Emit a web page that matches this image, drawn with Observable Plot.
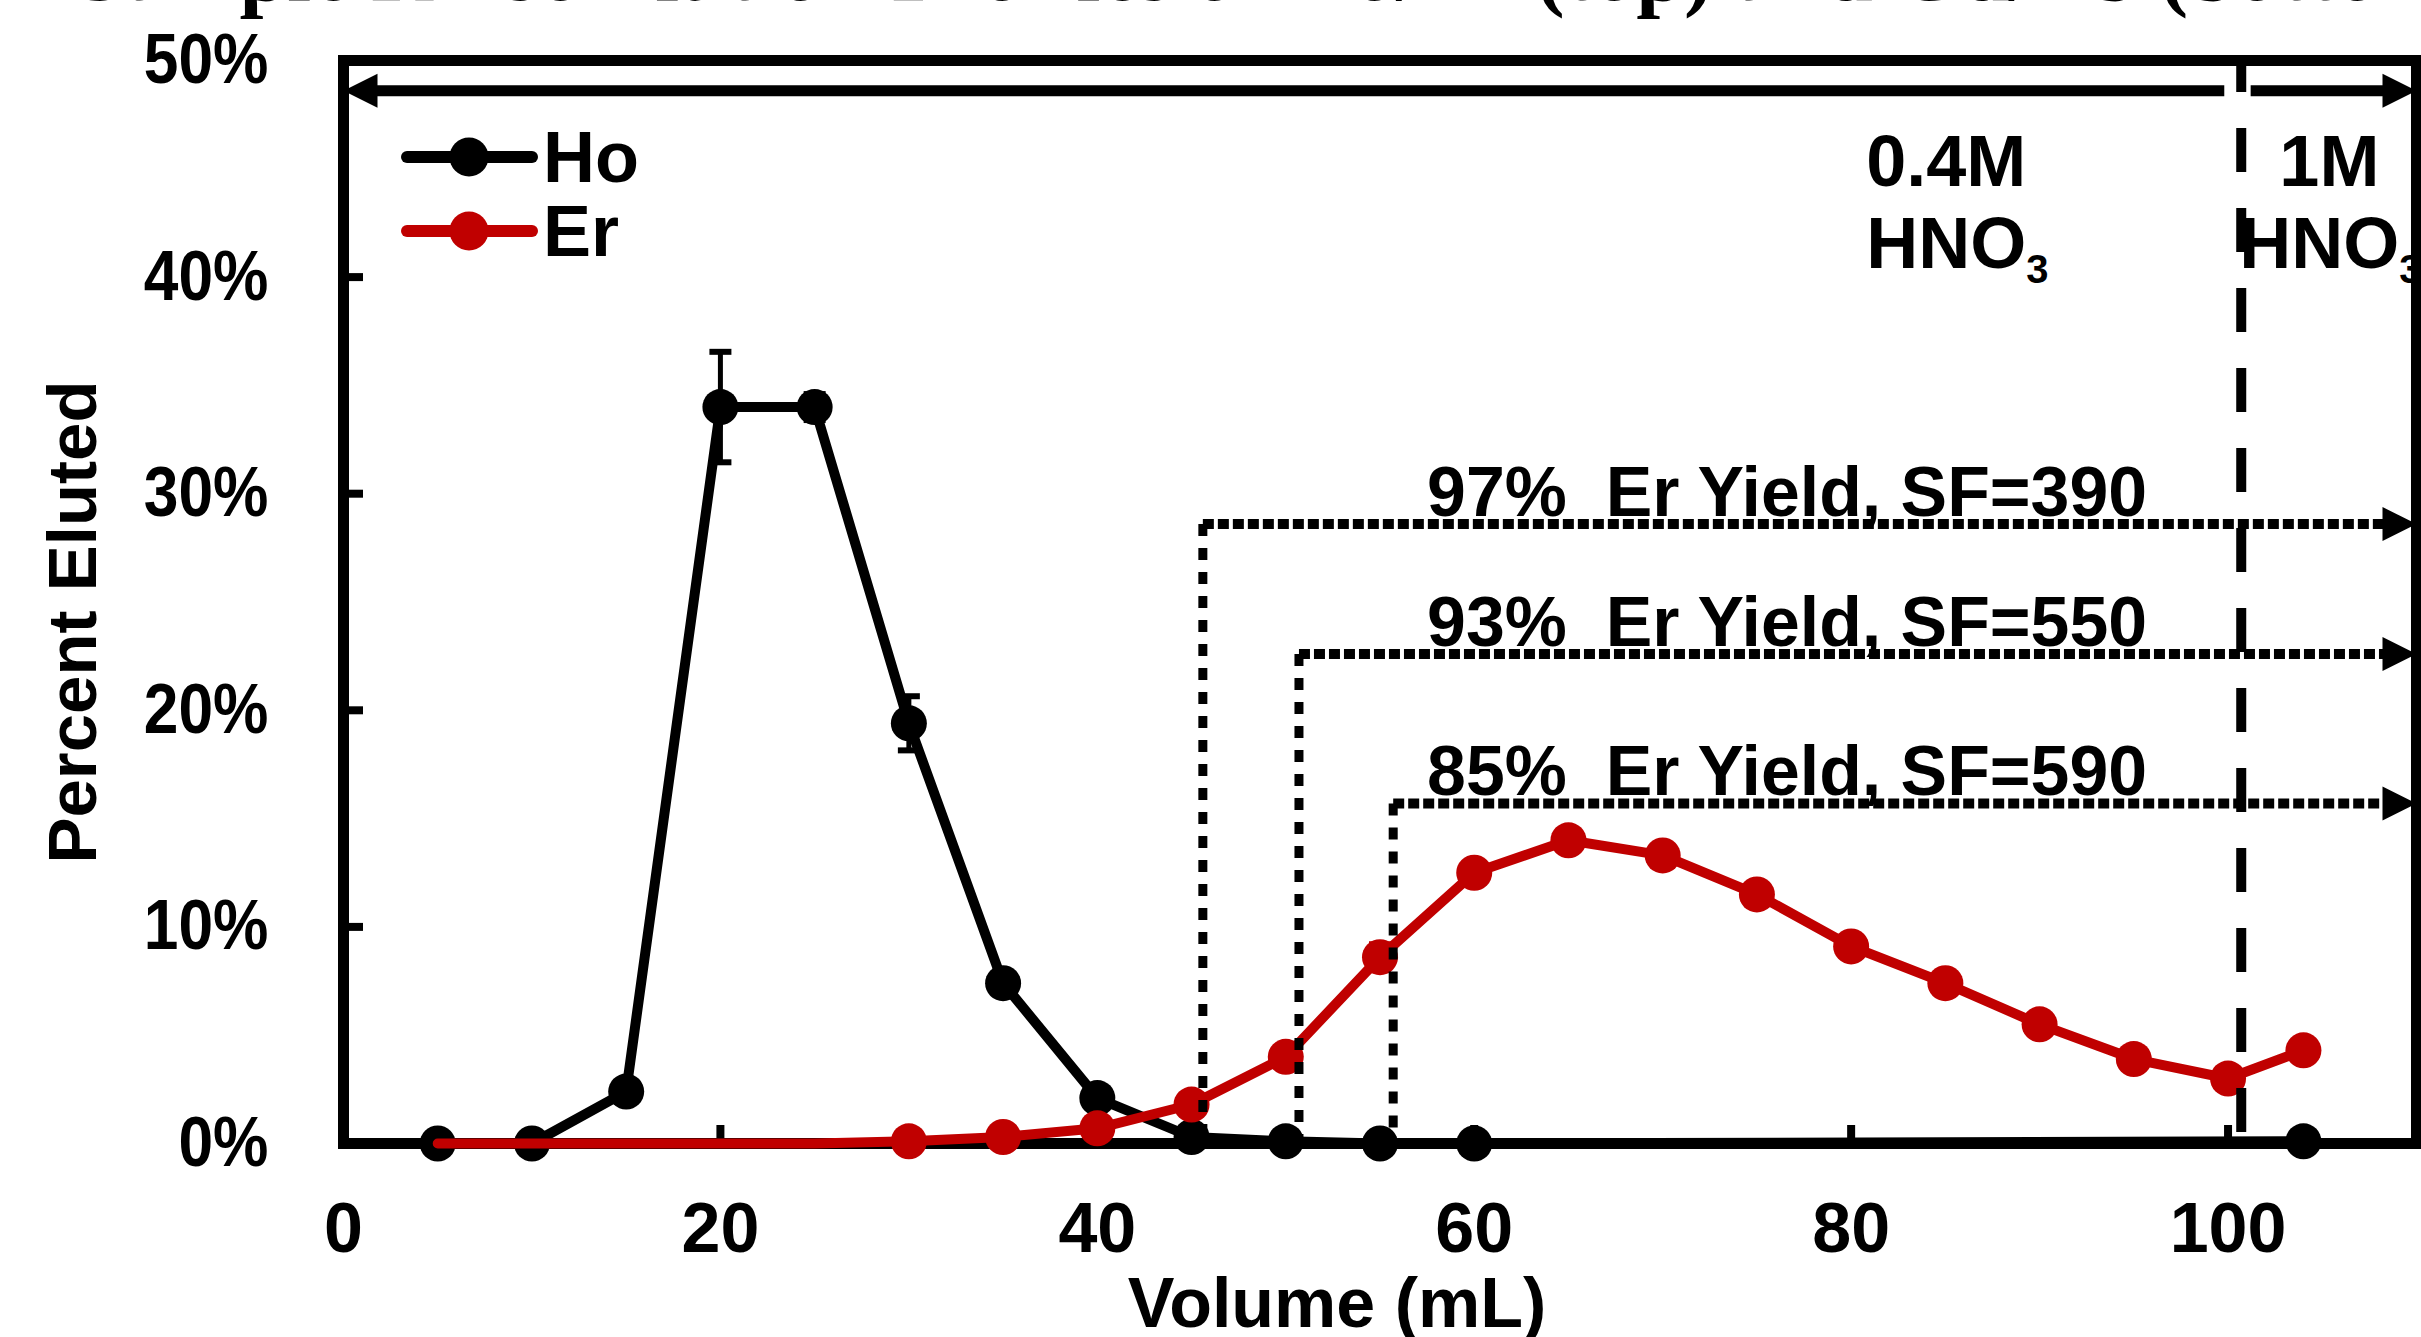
<!DOCTYPE html>
<html>
<head>
<meta charset="utf-8">
<script src="https://cdn.jsdelivr.net/npm/d3@7"></script>
<script src="https://cdn.jsdelivr.net/npm/@observablehq/plot@0.6"></script>
<style>
html, body { margin: 0; padding: 0; background: #fff; }
#wrap { position: relative; width: 2421px; height: 1337px; overflow: hidden; background: #fff; }
#chart svg { display: block; }
#title { position: absolute; left: 77px; top: -72px; font: bold 86px "Liberation Serif", "Times New Roman", serif; line-height: 1; white-space: nowrap; color: #000; }
.leg-swatch { position: absolute; }
.leg-text { position: absolute; font: bold 72px "Liberation Sans", Arial, sans-serif; line-height: 1; color: #000; white-space: nowrap; }
</style>
</head>
<body>
<div id="wrap">
  <div id="chart"></div>
  <div id="title">Sample Rinse Elution Profiles of Ho/Er (top) and Gd/Tb (bottom)</div>
  <div id="legend"></div>
</div>
<script>
// ---------------- data ----------------
const hoVolume  = [5, 10, 15, 20, 25, 30, 35, 40, 45, 50, 55, 60, 104];
const hoPercent = [0, 0, 2.4, 34.0, 34.0, 19.4, 7.4, 2.1, 0.3, 0.1, 0, 0, 0.1];
const hoError   = [0, 0, 0.3, 2.55, 0.6, 1.25, 0.4, 0.3, 0.1, 0, 0, 0, 0];

const erVolume  = [5, 10, 15, 20, 25, 30, 35, 40, 45, 50, 55, 60, 65, 70, 75, 80, 85, 90, 95, 100, 104];
const erPercent = [0, 0, 0, 0, 0, 0.1, 0.3, 0.7, 1.8, 4.0, 8.6, 12.5, 14.0, 13.3, 11.5, 9.1, 7.4, 5.5, 3.9, 3.0, 4.3];
const erError   = [0, 0, 0, 0, 0, 0.1, 0.2, 0.3, 0.4, 0.45, 0.6, 0.45, 0.45, 0.45, 0.45, 0.45, 0.45, 0.45, 0.4, 0.45, 0.45];

const seriesNames  = ["Ho", "Er"];
const seriesColors = ["#000000", "#C00000"];

const xTicks = [0, 20, 40, 60, 80, 100];
const yTicks = [0, 10, 20, 30, 40, 50];

// Er collection cut-offs (start volume, arrow level) and their labels
const cutVolume  = [45.6, 50.7, 55.7];
const cutPercent = [28.6, 22.6, 15.7];
const cutLabels  = ["97%  Er Yield, SF=390", "93%  Er Yield, SF=550", "85%  Er Yield, SF=590"];

// eluent change
const acidChangeVolume = 100.7;
const acidLabels = ["0.4M\nHNO₃", "\u00a0\u00a01M\nHNO₃"];

// ---------------- layout ----------------
const xDomain = [0, 110];
const yDomain = [0, 50];
const topArrowLevel = 48.6;
const cutLabelStart = 57.5;
const acidLabelX = [80.8, 100.6];
const acidLabelY = 40.4;
const markerStart = 30; // Er markers are shown from this volume on

const ho = hoVolume.map((v, i) => ({v, p: hoPercent[i], e: hoError[i]}));
const er = erVolume.map((v, i) => ({v, p: erPercent[i], e: erError[i]}));
const cuts = cutVolume.map((v, i) => ({v, p: cutPercent[i], label: cutLabels[i]}));
const acids = acidLabels.map((label, i) => ({label, x: acidLabelX[i]}));
const topArrows = [
  {x1: acidChangeVolume - 0.9, x2: xDomain[0] + 1.2},
  {x1: acidChangeVolume + 0.5, x2: xDomain[1] - 1.2}
];

const triRight = {draw(ctx) { ctx.moveTo(0, 0); ctx.lineTo(-34, -17); ctx.lineTo(-34, 17); ctx.closePath(); }};
const triLeft  = {draw(ctx) { ctx.moveTo(0, 0); ctx.lineTo(34, -17); ctx.lineTo(34, 17); ctx.closePath(); }};
const cap      = {draw(ctx) { ctx.rect(-11, -3, 22, 6); }};

const red = seriesColors[1];
const black = seriesColors[0];

function errorMarks(data, color) {
  const d = data.filter(o => o.e > 0);
  return [
    Plot.ruleX(d, {x: "v", y1: o => o.p - o.e, y2: o => o.p + o.e, stroke: color, strokeWidth: 5}),
    Plot.dot(d, {x: "v", y: o => o.p - o.e, symbol: cap, fill: color, stroke: "none"}),
    Plot.dot(d, {x: "v", y: o => o.p + o.e, symbol: cap, fill: color, stroke: "none"})
  ];
}

const svg = Plot.plot({
  width: 2421,
  height: 1337,
  marginTop: 60,
  marginBottom: 194,
  marginLeft: 343,
  marginRight: 5,
  x: {domain: xDomain},
  y: {domain: yDomain},
  style: {fontFamily: '"Liberation Sans", Arial, sans-serif', fontWeight: "bold", background: "white", color: "black"},
  marks: [
    // frame
    Plot.frame({stroke: black, strokeWidth: 11}),
    // axes: labels
    Plot.axisY({ticks: yTicks, tickSize: 0, tickPadding: 75, tickFormat: d => d + "%", fontSize: 70, label: null}),
    Plot.axisX({ticks: xTicks, tickSize: 0, tickPadding: 59, fontSize: 70, label: null}),
    // axes: inward ticks
    Plot.axisY({ticks: yTicks.slice(1, -1), tickSize: 20, dx: 20, strokeWidth: 8, fill: "none", label: null}),
    Plot.axisX({ticks: xTicks.slice(1), tickSize: 18, dy: -18, strokeWidth: 8, fill: "none", label: null}),
    // axis titles
    Plot.text(["Percent Eluted"], {text: d => d, frameAnchor: "left", textAnchor: "middle", rotate: -90, dx: -270, dy: 20, fontSize: 69}),
    Plot.text(["Volume (mL)"], {text: d => d, frameAnchor: "bottom", textAnchor: "middle", lineAnchor: "bottom", dx: -43, dy: 183, fontSize: 70}),
    // Ho
    Plot.line(ho, {x: "v", y: "p", stroke: black, strokeWidth: 10}),
    ...errorMarks(ho, black),
    Plot.dot(ho, {x: "v", y: "p", r: 18, fill: black, stroke: "none"}),
    // Er
    Plot.line(er, {x: "v", y: "p", stroke: red, strokeWidth: 10}),
    ...errorMarks(er.filter(o => o.v >= markerStart), red),
    Plot.dot(er.filter(o => o.v >= markerStart), {x: "v", y: "p", r: 18, fill: red, stroke: "none"}),
    // cut-off dotted lines and arrows
    Plot.link(cuts, {x1: "v", y1: "p", x2: "v", y2: 0, stroke: black, strokeWidth: 9, strokeDasharray: "12,12"}),
    Plot.link(cuts, {x1: "v", y1: "p", x2: xDomain[1] - 1.2, y2: "p", stroke: black, strokeWidth: 10, strokeDasharray: "11,4"}),
    Plot.dot(cuts, {x: xDomain[1], y: "p", symbol: triRight, fill: black, stroke: "none"}),
    Plot.text(cuts, {x: cutLabelStart, y: "p", text: "label", textAnchor: "start", lineAnchor: "bottom", dy: -8, fontSize: 70}),
    // eluent change line
    Plot.ruleX([acidChangeVolume], {y1: yDomain[1], y2: yDomain[0], stroke: black, strokeWidth: 10, strokeDasharray: "44,36", strokeDashoffset: 12}),
    // top arrows
    Plot.link(topArrows, {x1: "x1", x2: "x2", y1: topArrowLevel, y2: topArrowLevel, stroke: black, strokeWidth: 11}),
    Plot.dot([xDomain[0]], {x: d => d, y: topArrowLevel, symbol: triLeft, fill: black, stroke: "none"}),
    Plot.dot([xDomain[1]], {x: d => d, y: topArrowLevel, symbol: triRight, fill: black, stroke: "none"}),
    // eluent labels
    Plot.text(acids, {x: "x", y: acidLabelY, text: "label", textAnchor: "start", lineAnchor: "bottom", lineHeight: 1.14, fontSize: 72})
  ]
});

document.getElementById("chart").append(svg);

// subscripts in HNO3
d3.select(svg).selectAll("text, tspan").each(function () {
  if (this.childNodes.length === 1 && this.firstChild.nodeType === 3 && this.textContent.includes("₃")) {
    const t = this.textContent;
    this.textContent = t.replace("₃", "");
    d3.select(this).append("tspan").attr("font-size", 40).attr("dy", 15).text("3");
  }
});
// cut-off labels and percent ticks: narrow lettering
d3.select(svg).selectAll("text").each(function () {
  const t = this.textContent;
  if (t.includes("Yield")) {
    this.setAttribute("textLength", 720);
    this.setAttribute("lengthAdjust", "spacingAndGlyphs");
  } else if (/^\d+%$/.test(t)) {
    const w = this.getComputedTextLength();
    this.setAttribute("textLength", w * 0.89);
    this.setAttribute("lengthAdjust", "spacingAndGlyphs");
  }
});

// legend (HTML overlay)
const legend = d3.select("#legend");
seriesNames.forEach((name, i) => {
  const cy = 157 + i * 74;
  const s = legend.append("svg").attr("class", "leg-swatch")
    .style("left", "400px").style("top", (cy - 25) + "px")
    .attr("width", 140).attr("height", 50);
  s.append("line").attr("x1", 7).attr("x2", 132).attr("y1", 25).attr("y2", 25)
    .attr("stroke", seriesColors[i]).attr("stroke-width", 12).attr("stroke-linecap", "round");
  s.append("circle").attr("cx", 69).attr("cy", 25).attr("r", 19.5).attr("fill", seriesColors[i]);
  legend.append("div").attr("class", "leg-text")
    .style("left", "543px").style("top", (cy - 36) + "px").text(name);
});
</script>
</body>
</html>
